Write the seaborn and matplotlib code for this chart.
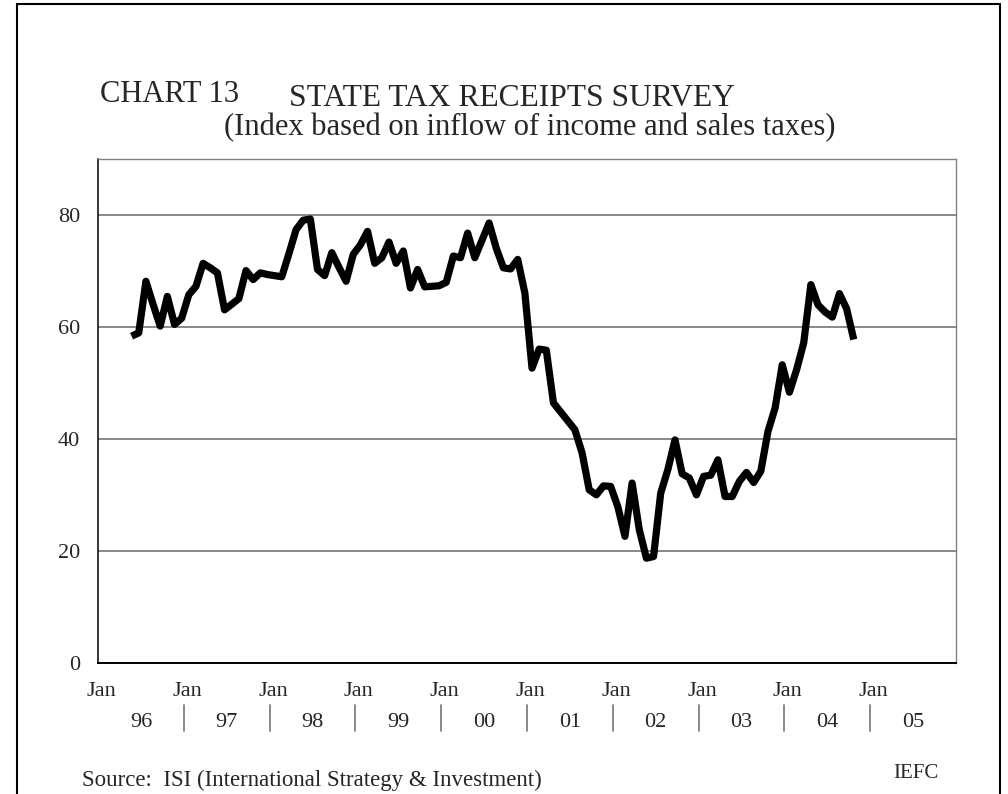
import numpy as np
import pandas as pd
import matplotlib
matplotlib.use("Agg")
import matplotlib.pyplot as plt
import matplotlib.transforms as mtransforms
from matplotlib.patches import Rectangle
import seaborn as sns

# ---------------- data ----------------
start_year = 1996
start_month = 5  # first observation: May 1996, monthly thereafter
index_values = [
    58.3, 58.9, 68.1, 64.0, 60.1, 65.4, 60.4, 61.5,
    65.7, 67.2, 71.3, 70.5, 69.6, 63.0, 64.0, 65.0, 70.0, 68.4, 69.6, 69.3,
    69.1, 68.9, 73.0, 77.3, 79.0, 79.2, 70.2, 69.1, 73.2, 70.6, 68.1, 72.9,
    74.6, 77.0, 71.3, 72.3, 75.1, 71.3, 73.5, 66.9, 70.2, 67.1, 67.2, 67.3,
    67.9, 72.6, 72.3, 76.7, 72.3, 75.4, 78.5, 74.0, 70.5, 70.3, 72.0, 66.0,
    52.6, 56.0, 55.8, 46.4, 44.8, 43.2, 41.6, 37.5, 30.9, 30.0, 31.6, 31.5,
    27.9, 22.6, 32.1, 23.8, 18.7, 19.0, 30.3, 34.5, 39.8, 33.75, 33.0, 30.0,
    33.3, 33.5, 36.25, 29.7, 29.7, 32.4, 34.0, 32.2, 34.2, 41.3, 45.5, 53.2,
    48.3, 52.3, 57.1, 67.5, 63.9, 62.6, 61.7, 65.9, 63.2, 57.7,
]
y_ticks = [0, 20, 40, 60, 80]
jan_years = list(range(1996, 2006))
year_labels = ["96", "97", "98", "99", "00", "01", "02", "03", "04", "05"]

chart_no = "CHART 13"
title_main = "STATE TAX RECEIPTS SURVEY"
subtitle = "(Index based on inflow of income and sales taxes)"
source_txt = "Source:  ISI (International Strategy & Investment)"
credit_txt = "IEFC"

# ---------------- style ----------------
sns.set_style("white")
plt.rcParams["font.family"] = ["Liberation Serif", "DejaVu Serif"]

W, H = 1008, 794
fig = plt.figure(figsize=(W / 100, H / 100), dpi=100)

ax_l, ax_r, ax_t, ax_b = 98, 956, 158.5, 663
ax = fig.add_axes([ax_l / W, 1 - ax_b / H, (ax_r - ax_l) / W, (ax_b - ax_t) / H])

n = len(index_values)
t = start_year + (start_month - 1 + np.arange(n) + 0.7) / 12.0
df = pd.DataFrame({"t": t, "value": index_values})

sns.lineplot(data=df, x="t", y="value", ax=ax, color="black", linewidth=5.2,
             solid_capstyle="butt", zorder=3)

ax.set_xlim(1996, 2006)
ax.set_ylim(0, 90)
ax.set_xlabel("")
ax.set_ylabel("")

# y axis
ax.set_yticks(y_ticks)
ax.set_yticklabels([str(v) for v in y_ticks])
ax.tick_params(axis="y", length=0, pad=13, labelsize=16)
ax.yaxis.grid(True, color="#808080", linewidth=1.3)
ax.xaxis.grid(False)
ax.set_axisbelow(True)

# x axis: "Jan" labels
ax.set_xticks([y + 0.04 for y in jan_years])
ax.set_xticklabels(["Jan"] * len(jan_years))
ax.tick_params(axis="x", length=0, pad=14, labelsize=16)

trans = mtransforms.blended_transform_factory(ax.transData, ax.transAxes)
ax_h = ax_b - ax_t
for yr, lab in zip(jan_years, year_labels):
    ax.text(yr + 0.5, -(726.7 - ax_b) / ax_h, lab, transform=trans,
            ha="center", va="baseline", fontsize=16)
for yr in jan_years[1:]:
    ax.plot([yr, yr], [-(705 - ax_b) / ax_h, -(731 - ax_b) / ax_h],
            transform=trans, color="#808080", linewidth=1.3, clip_on=False)

# spines
ax.spines["left"].set_color("black")
ax.spines["left"].set_linewidth(1.1)
ax.spines["bottom"].set_color("black")
ax.spines["bottom"].set_linewidth(1.4)
for s in ("top", "right"):
    ax.spines[s].set_color("#808080")
    ax.spines[s].set_linewidth(1.0)

# titles and notes
fig.text(100 / W, 1 - 101.7 / H, chart_no, fontsize=22, ha="left", va="baseline")
fig.text(512 / W, 1 - 106 / H, title_main, fontsize=22.7, ha="center", va="baseline")
fig.text(529.5 / W, 1 - 135 / H, subtitle, fontsize=22, ha="center", va="baseline")
fig.text(81.7 / W, 1 - 785.7 / H, source_txt, fontsize=16.5, ha="left", va="baseline")
fig.text(915.5 / W, 1 - 777.7 / H, credit_txt, fontsize=15, ha="center", va="baseline")

# outer frame
fig.patches.append(Rectangle((17 / W, -0.05), (1000 - 17) / W, 1.05 - 3.5 / H,
                             transform=fig.transFigure, fill=False,
                             edgecolor="black", linewidth=1.5))

fig.savefig("out.png", dpi=100)
